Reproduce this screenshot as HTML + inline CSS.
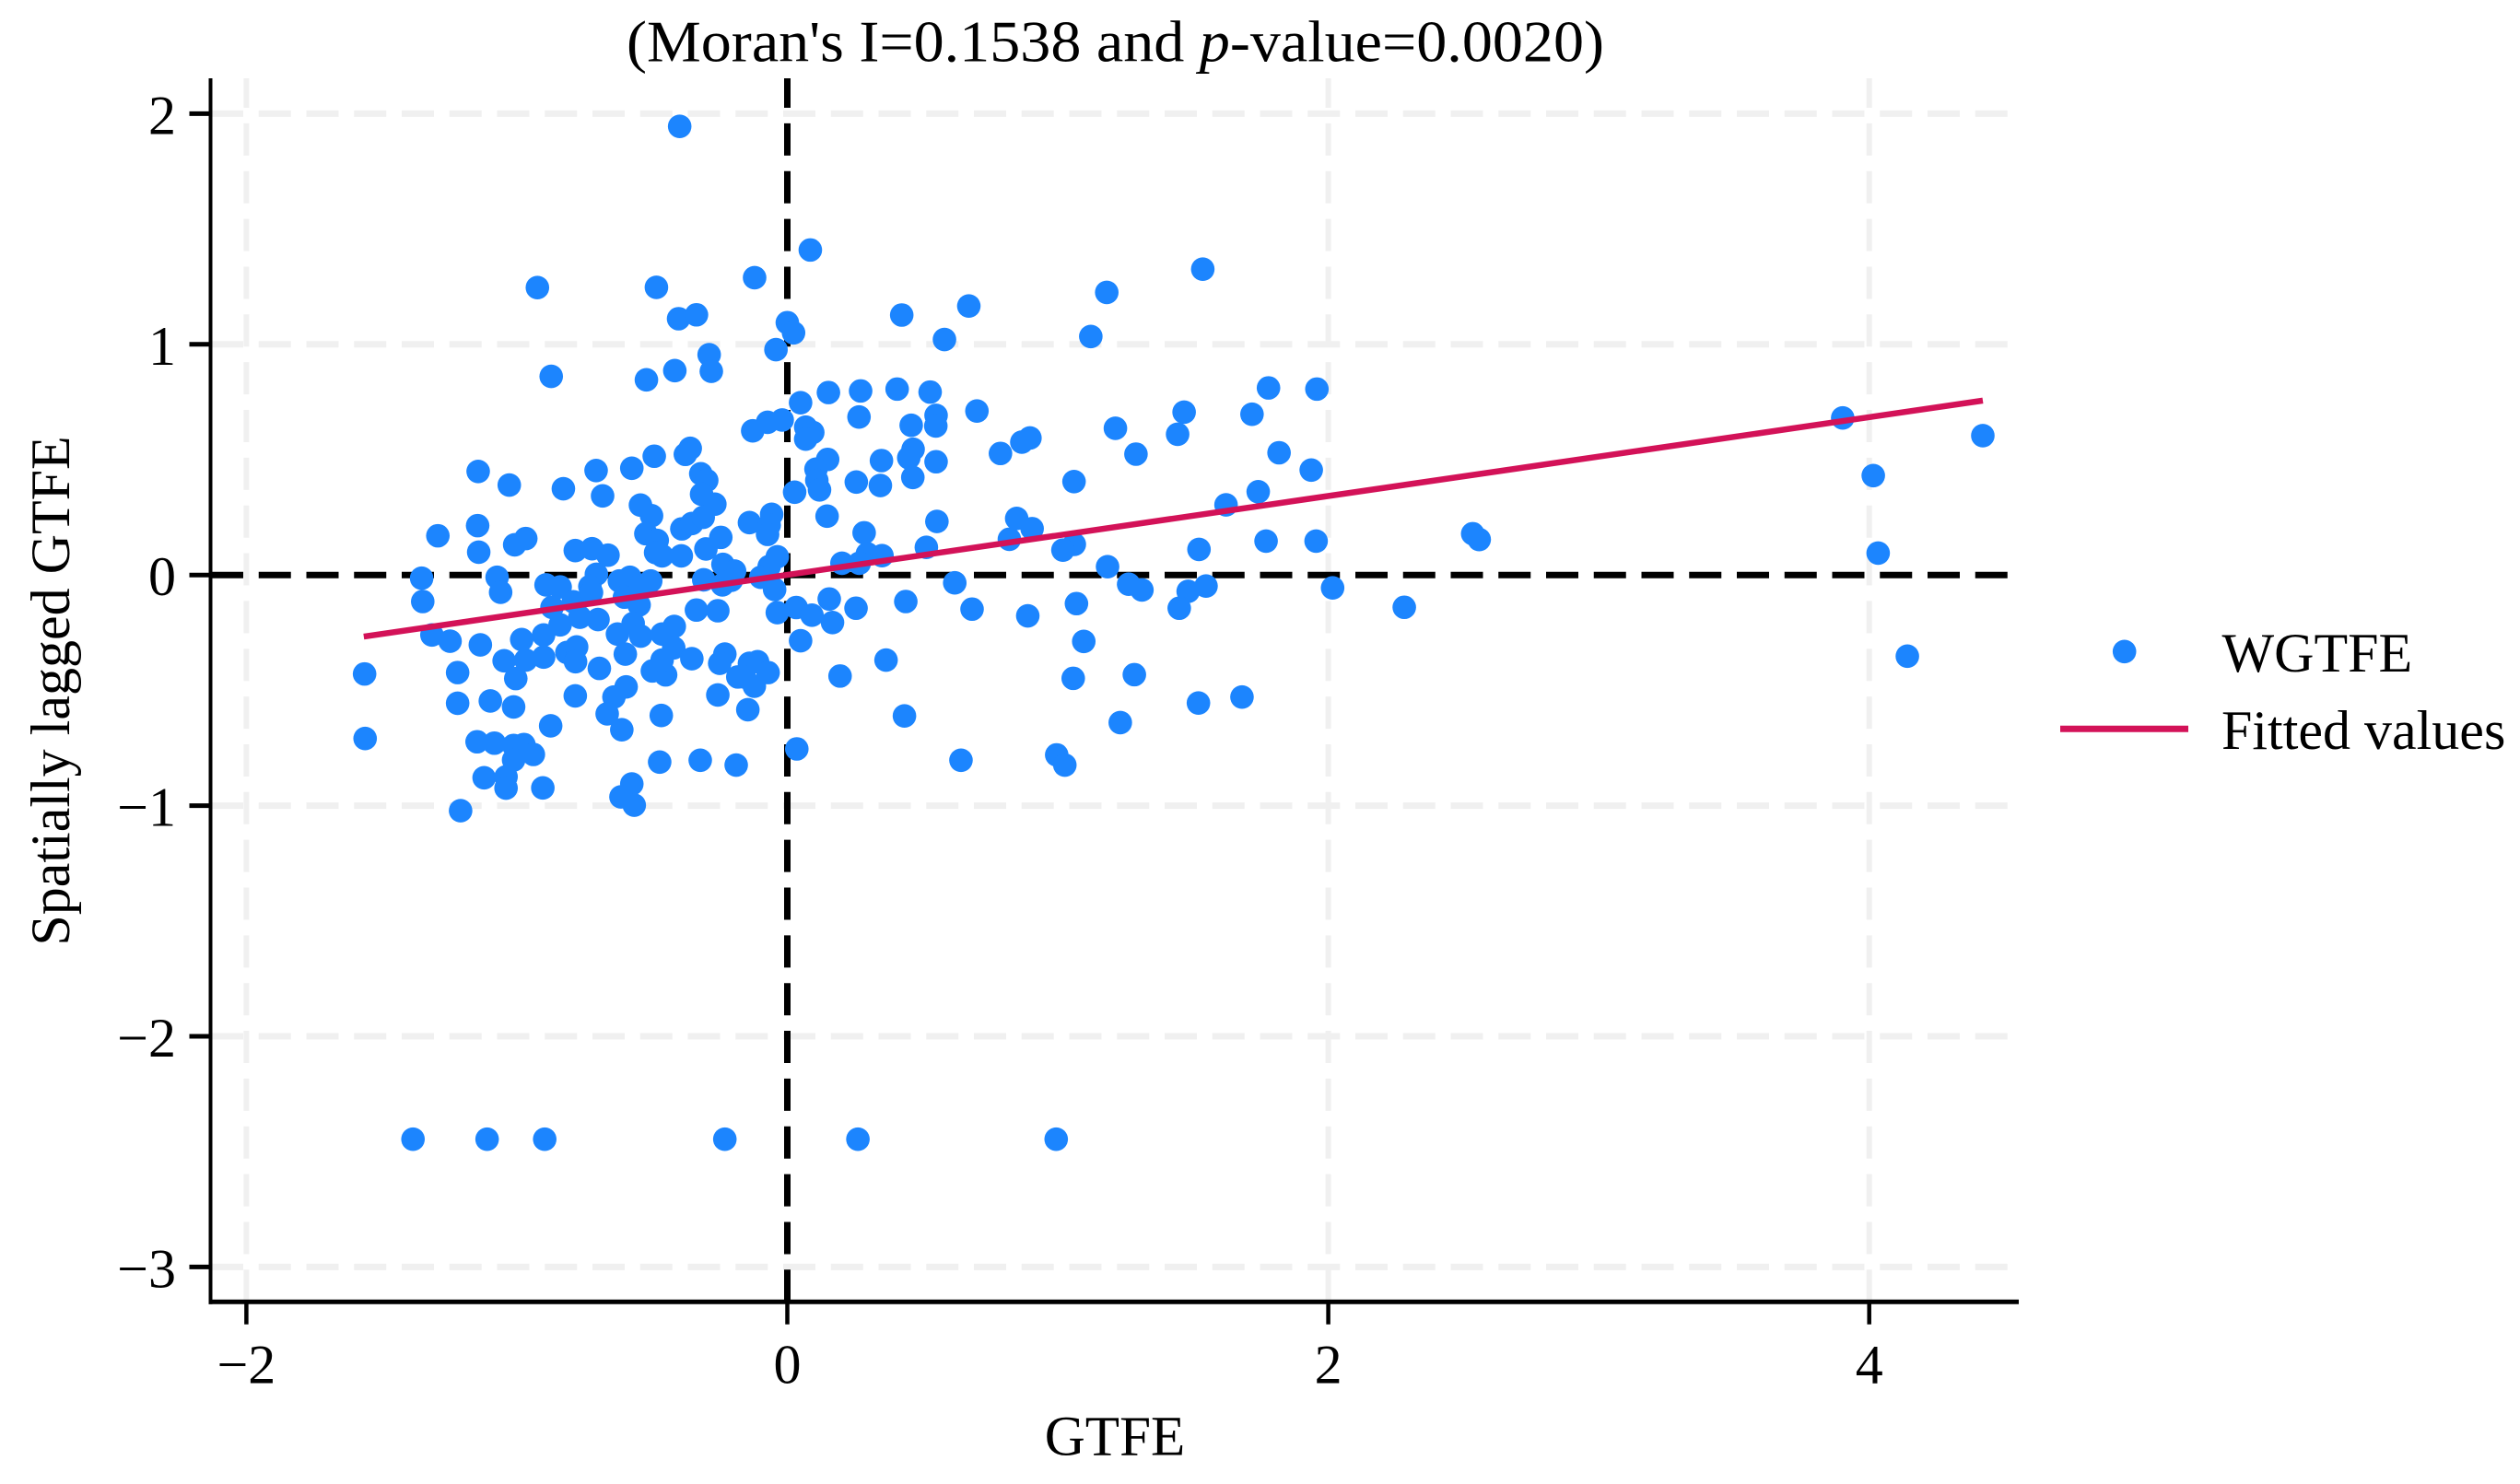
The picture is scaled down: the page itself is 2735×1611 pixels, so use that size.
<!DOCTYPE html>
<html lang="en">
<head>
<meta charset="utf-8">
<title>Moran scatter plot of GTFE</title>
<style>
html,body{margin:0;padding:0;background:#fff;}
svg{display:block;}
text{font-family:"Liberation Serif",serif;fill:#000;}
</style>
</head>
<body>
<svg id="chart" xmlns="http://www.w3.org/2000/svg" width="2735" height="1611" viewBox="0 0 2735 1611">
  <rect width="2735" height="1611" fill="#fff"/>
  <g id="grid"></g>
  <g id="zero"></g>
  <g id="points"></g>
  <g id="fit"></g>
  <g id="axes"></g>
  <text x="680" y="66.5" font-size="64" textLength="1061" lengthAdjust="spacingAndGlyphs">(Moran's I=0.1538 and <tspan font-style="italic">p</tspan>-value=0.0020)</text>
  <text x="1210" y="1579.5" font-size="61" text-anchor="middle">GTFE</text>
  <text transform="translate(75,750) rotate(-90)" font-size="60" text-anchor="middle">Spatially lagged GTFE</text>
  <g>
    <circle cx="2305.7" cy="707.3" r="12.8" fill="#1c85fe"/>
    <text x="2411.5" y="729" font-size="60">WGTFE</text>
    <line x1="2236" x2="2375" y1="791.3" y2="791.3" stroke="#d31258" stroke-width="7"/>
    <text x="2411" y="813" font-size="60">Fitted values</text>
  </g>
</svg>
<script>
const xTicks = [-2, 0, 2, 4];
const xTickLabels = ["\u22122", "0", "2", "4"];
const yTicks = [-3, -2, -1, 0, 1, 2];
const yTickLabels = ["\u22123", "\u22122", "\u22121", "0", "1", "2"];
const fitX = [-1.566, 4.42];
const fitY = [-0.267, 0.756];
const pointX = [
-1.143,-1.028,-0.828,-0.707,-0.683,-0.575,-0.492,-0.359,-0.377,-0.320,-0.298,-0.317,-0.268,-0.543,-0.502,-0.523,-0.481,-0.487,-0.463,-0.392,
-0.390,-0.353,-0.311,-0.301,-0.246,-0.140,-0.058,-0.067,-0.073,-0.037,-0.067,-0.098,-0.309,-0.238,-0.195,-0.207,-0.240,-1.292,-1.145,-1.141,
-1.008,-0.967,-0.784,-0.722,-0.663,-0.706,-0.730,-1.352,-1.348,-1.073,-1.060,-0.892,-0.840,-0.621,-0.582,-0.505,-0.554,-0.602,-0.548,-0.870,
-0.791,-0.724,-0.767,-0.700,-0.840,-1.314,-1.247,-1.135,-0.982,-0.901,-1.047,-0.967,-0.901,-1.004,-0.815,-0.779,-0.783,-0.695,-0.628,-0.570,
-0.542,-0.599,-0.418,-0.463,-0.420,-0.353,-0.499,-0.450,-0.463,-0.231,-0.250,-0.183,-0.140,-0.110,-0.071,-0.122,-0.159,-0.336,-0.257,-0.047,
-0.037,-1.563,-1.219,-1.219,-1.098,-1.012,-1.561,-0.784,-0.596,-0.641,-0.666,-0.612,-0.466,-0.257,-0.146,-0.875,-1.147,-1.083,-1.012,-0.974,
-0.939,-1.012,-1.121,-1.040,-1.040,-0.904,-0.472,-0.322,-0.189,-0.575,-0.615,-0.566,-1.208,-0.128,-0.073,-0.019,
-0.398,-0.924,-0.484,-0.402,-0.336,-0.873,-0.521,-0.416,-0.289,-0.281,-0.121,
0.085,0.423,0.671,1.181,1.536,0.581,1.122,0.000,0.023,-0.042,0.152,0.271,0.406,0.528,0.049,0.265,0.701,0.550,0.549,0.458,
0.068,0.094,0.068,0.897,0.867,0.788,1.213,1.467,1.443,1.289,1.779,1.958,1.718,1.818,1.937,0.149,0.106,0.109,0.119,0.027,
0.348,0.465,0.449,0.464,0.550,0.255,0.344,1.060,0.147,0.284,0.553,0.514,0.296,0.350,0.202,0.266,0.848,0.905,0.821,1.061,
1.019,1.622,1.741,1.522,1.770,1.955,1.184,1.262,1.311,1.482,1.548,1.449,2.016,2.281,0.619,0.155,0.033,0.091,0.167,0.254,
0.438,0.683,0.889,1.069,1.096,0.049,0.365,0.195,1.057,1.283,1.520,1.681,1.231,0.433,0.035,0.642,0.996,1.026,
3.902,4.420,4.015,4.033,4.141,2.534,2.558,
-1.384,-1.110,-0.897,-0.231,0.261,0.994
];
const pointY = [
0.449,0.390,0.374,0.453,0.343,0.463,0.515,0.549,0.523,0.439,0.410,0.350,0.307,0.303,0.257,0.179,0.150,0.097,0.083,0.083,
0.200,0.223,0.250,0.113,0.163,0.227,0.263,0.216,0.176,0.079,0.037,-0.010,-0.021,0.046,0.017,-0.023,-0.043,0.170,0.214,0.099,
0.131,0.158,0.106,0.114,0.086,0.003,-0.050,-0.014,-0.115,-0.010,-0.075,-0.043,-0.052,-0.026,-0.010,-0.026,-0.050,-0.096,-0.130,-0.140,
-0.116,-0.076,-0.183,-0.193,-0.216,-0.260,-0.287,-0.303,-0.280,-0.260,-0.372,-0.369,-0.356,-0.449,-0.336,-0.312,-0.376,-0.405,-0.256,-0.210,
-0.265,-0.343,-0.223,-0.256,-0.316,-0.363,-0.416,-0.433,-0.369,-0.343,-0.383,-0.442,-0.383,-0.376,-0.423,-0.482,-0.442,-0.152,-0.155,-0.063,
-0.163,-0.429,-0.423,-0.556,-0.546,-0.572,-0.709,-0.524,-0.485,-0.529,-0.602,-0.671,-0.609,-0.520,-0.584,-0.654,-0.723,-0.729,-0.739,-0.735,
-0.778,-0.802,-0.879,-0.875,-0.924,-0.923,-0.811,-0.803,-0.824,-0.906,-0.962,-0.998,-1.022,0.625,0.662,0.672,
1.945,1.246,1.247,1.111,1.128,0.861,0.846,0.886,0.955,0.883,1.289,
1.409,1.127,1.166,1.225,1.326,1.021,1.034,1.094,1.050,0.977,0.791,0.798,0.806,0.793,0.747,0.685,0.711,0.692,0.646,0.649,
0.641,0.618,0.589,0.594,0.576,0.527,0.636,0.706,0.610,0.524,0.811,0.806,0.697,0.530,0.455,0.501,0.459,0.410,0.369,0.359,
0.496,0.545,0.508,0.423,0.491,0.403,0.388,0.405,0.255,0.183,0.232,0.120,0.092,0.084,0.051,0.051,0.245,0.201,0.155,0.133,
0.108,0.304,0.361,0.111,0.147,0.147,0.036,-0.040,-0.065,-0.071,-0.048,-0.144,-0.056,-0.140,-0.034,-0.104,-0.141,-0.174,-0.206,-0.144,
-0.115,-0.148,-0.177,-0.124,-0.288,-0.285,-0.369,-0.438,-0.448,-0.432,-0.555,-0.529,-0.640,-0.611,-0.754,-0.803,-0.780,-0.824,
0.681,0.604,0.431,0.095,-0.352,0.179,0.154,
-2.446,-2.446,-2.446,-2.446,-2.446,-2.446
];

const NS = "http://www.w3.org/2000/svg";
const plotLeft = 228.5, plotRight = 2191, plotTop = 85, plotBottom = 1413.3;
function xScale(v) { return 854.5 + 293.55 * v; }
function yScale(v) { return 624.2 - 250.4 * v; }
function make(tag, attrs, parent) {
  const el = document.createElementNS(NS, tag);
  for (const k in attrs) el.setAttribute(k, attrs[k]);
  parent.appendChild(el);
  return el;
}
const gridG = document.getElementById("grid");
const zeroG = document.getElementById("zero");
const pointsG = document.getElementById("points");
const fitG = document.getElementById("fit");
const axesG = document.getElementById("axes");

yTicks.forEach(function (t) {
  const isZero = t === 0;
  const line = make("line", {x1: 229, x2: 2182, y1: yScale(t), y2: yScale(t),
    stroke: isZero ? "#000" : "#f0f0f0", "stroke-width": 7, "stroke-dasharray": "35 16.75"}, isZero ? zeroG : gridG);
  
  
});
xTicks.forEach(function (t) {
  const isZero = t === 0;
  const line = make("line", {x1: xScale(t), x2: xScale(t), y1: plotBottom, y2: plotTop,
    stroke: isZero ? "#000" : "#f0f0f0", "stroke-width": isZero ? 7 : 6, "stroke-dasharray": "35 16.85"}, isZero ? zeroG : gridG);
  
  
});

pointX.forEach(function (vx, i) {
  const c = make("circle", {cx: xScale(vx), cy: yScale(pointY[i]), r: 12.8, fill: "#1c85fe"}, pointsG);
  
  
});

const fitLine = make("line", {x1: xScale(fitX[0]), y1: yScale(fitY[0]), x2: xScale(fitX[1]), y2: yScale(fitY[1]),
  stroke: "#d31258", "stroke-width": 6.5}, fitG);



const leftAxis = make("line", {x1: plotLeft, x2: plotLeft, y1: plotTop, y2: plotBottom + 2.5, stroke: "#000", "stroke-width": 4}, axesG);


const bottomAxis = make("line", {x1: plotLeft - 2, x2: plotRight, y1: plotBottom, y2: plotBottom, stroke: "#000", "stroke-width": 5}, axesG);



xTicks.forEach(function (t, i) {
  const tick = make("line", {x1: xScale(t), x2: xScale(t), y1: plotBottom, y2: 1437.7, stroke: "#000", "stroke-width": 4.5}, axesG);
  
  
  const label = make("text", {x: xScale(t), y: 1501.5, "font-size": 60, "text-anchor": "middle"}, axesG);
  label.textContent = xTickLabels[i];
  
  
});
yTicks.forEach(function (t, i) {
  const tick = make("line", {x1: 205.5, x2: plotLeft, y1: yScale(t), y2: yScale(t), stroke: "#000", "stroke-width": 5}, axesG);
  
  
  const label = make("text", {x: 191, y: yScale(t) + 22, "font-size": 60, "text-anchor": "end"}, axesG);
  label.textContent = yTickLabels[i];
  
  
});
</script>
</body>
</html>
